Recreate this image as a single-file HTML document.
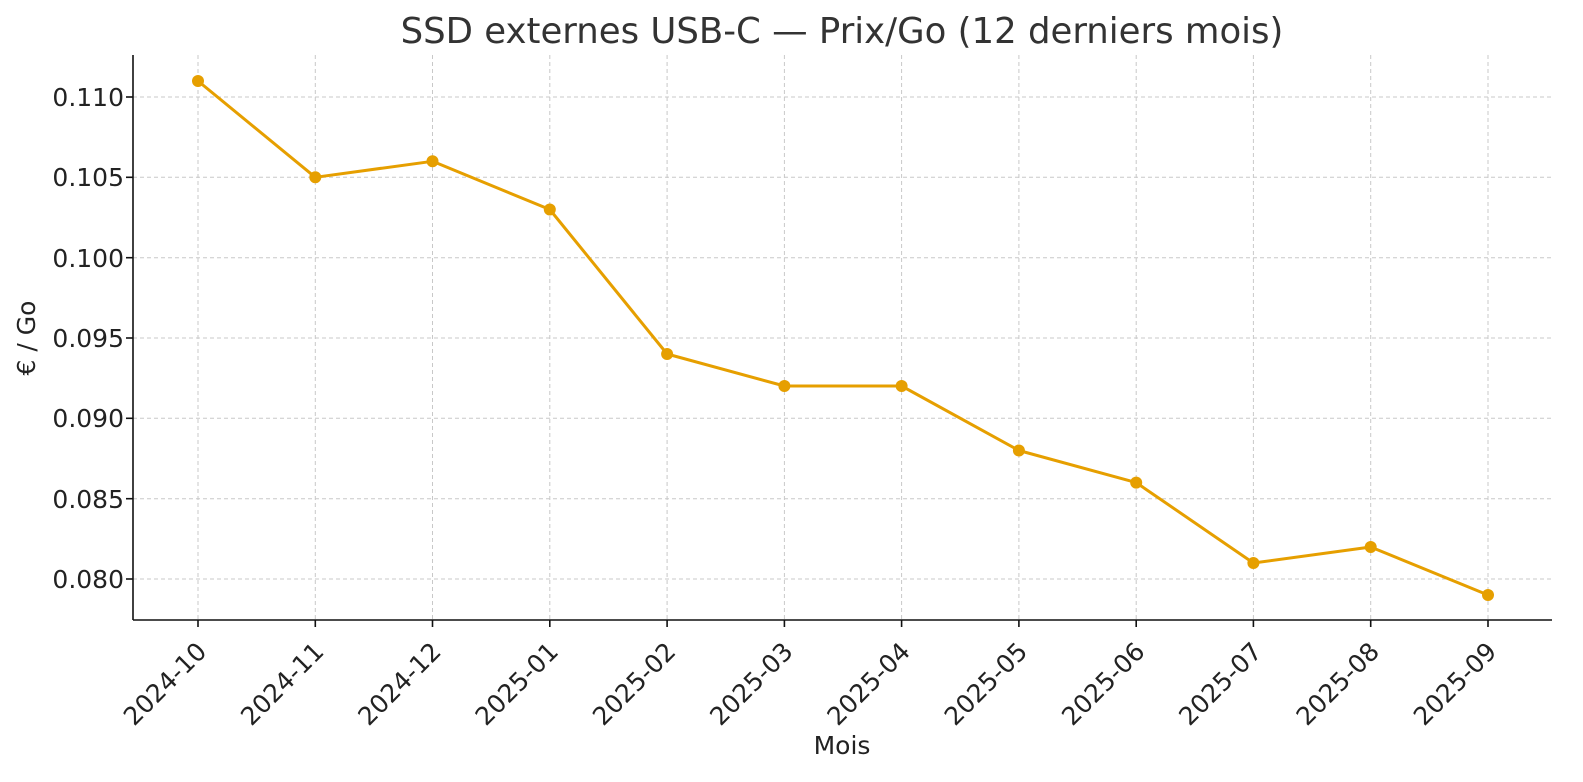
<!DOCTYPE html>
<html><head><meta charset="utf-8"><style>html,body{margin:0;padding:0;overflow:hidden;background:#fff;width:1583px;height:782px}svg{display:block}</style></head>
<body>
<svg width="1583" height="782" viewBox="0 0 1583 782" xmlns="http://www.w3.org/2000/svg" font-family="DejaVu Sans, Liberation Sans, sans-serif">
<rect width="1583" height="782" fill="#fff"/>
<g stroke="#c8c8c8" stroke-width="1" stroke-dasharray="4,3">
<line x1="133" x2="1552" y1="97" y2="97"/><line x1="133" x2="1552" y1="177.3" y2="177.3"/><line x1="133" x2="1552" y1="257.7" y2="257.7"/><line x1="133" x2="1552" y1="338" y2="338"/><line x1="133" x2="1552" y1="418.3" y2="418.3"/><line x1="133" x2="1552" y1="498.7" y2="498.7"/><line x1="133" x2="1552" y1="579" y2="579"/>
<line y1="55" y2="620" x1="198" x2="198"/><line y1="55" y2="620" x1="315.3" x2="315.3"/><line y1="55" y2="620" x1="432.5" x2="432.5"/><line y1="55" y2="620" x1="549.8" x2="549.8"/><line y1="55" y2="620" x1="667.1" x2="667.1"/><line y1="55" y2="620" x1="784.4" x2="784.4"/><line y1="55" y2="620" x1="901.6" x2="901.6"/><line y1="55" y2="620" x1="1018.9" x2="1018.9"/><line y1="55" y2="620" x1="1136.2" x2="1136.2"/><line y1="55" y2="620" x1="1253.4" x2="1253.4"/><line y1="55" y2="620" x1="1370.7" x2="1370.7"/><line y1="55" y2="620" x1="1488" x2="1488"/>
</g>
<g stroke="#111" stroke-width="1.6">
<line x1="133" y1="55" x2="133" y2="620"/><line x1="133" y1="620" x2="1552" y2="620"/>
<line x1="126" x2="133" y1="97" y2="97"/><line x1="126" x2="133" y1="177.3" y2="177.3"/><line x1="126" x2="133" y1="257.7" y2="257.7"/><line x1="126" x2="133" y1="338" y2="338"/><line x1="126" x2="133" y1="418.3" y2="418.3"/><line x1="126" x2="133" y1="498.7" y2="498.7"/><line x1="126" x2="133" y1="579" y2="579"/>
<line y1="620" y2="627" x1="198" x2="198"/><line y1="620" y2="627" x1="315.3" x2="315.3"/><line y1="620" y2="627" x1="432.5" x2="432.5"/><line y1="620" y2="627" x1="549.8" x2="549.8"/><line y1="620" y2="627" x1="667.1" x2="667.1"/><line y1="620" y2="627" x1="784.4" x2="784.4"/><line y1="620" y2="627" x1="901.6" x2="901.6"/><line y1="620" y2="627" x1="1018.9" x2="1018.9"/><line y1="620" y2="627" x1="1136.2" x2="1136.2"/><line y1="620" y2="627" x1="1253.4" x2="1253.4"/><line y1="620" y2="627" x1="1370.7" x2="1370.7"/><line y1="620" y2="627" x1="1488" x2="1488"/>
</g>
<g font-size="25" fill="#222" text-anchor="end">
<text x="124" y="106">0.110</text><text x="124" y="186">0.105</text><text x="124" y="267">0.100</text><text x="124" y="347">0.095</text><text x="124" y="427">0.090</text><text x="124" y="508">0.085</text><text x="124" y="588">0.080</text>
</g>
<g font-size="25" fill="#222" text-anchor="end">
<text transform="translate(208,653) rotate(-45)">2024-10</text>
<text transform="translate(325.3,653) rotate(-45)">2024-11</text>
<text transform="translate(442.5,653) rotate(-45)">2024-12</text>
<text transform="translate(559.8,653) rotate(-45)">2025-01</text>
<text transform="translate(677.1,653) rotate(-45)">2025-02</text>
<text transform="translate(794.4,653) rotate(-45)">2025-03</text>
<text transform="translate(911.6,653) rotate(-45)">2025-04</text>
<text transform="translate(1028.9,653) rotate(-45)">2025-05</text>
<text transform="translate(1146.2,653) rotate(-45)">2025-06</text>
<text transform="translate(1263.4,653) rotate(-45)">2025-07</text>
<text transform="translate(1380.7,653) rotate(-45)">2025-08</text>
<text transform="translate(1498,653) rotate(-45)">2025-09</text>
</g>
<text x="842" y="754" font-size="25" fill="#222" text-anchor="middle">Mois</text>
<text transform="translate(35,338) rotate(-90)" font-size="25" fill="#222" text-anchor="middle">€ / Go</text>
<text x="842" y="43" font-size="35.5" fill="#333" text-anchor="middle">SSD externes USB-C — Prix/Go (12 derniers mois)</text>
<polyline fill="none" stroke="#E69F00" stroke-width="3" stroke-linejoin="round" points="198,81 315.3,177.3 432.5,161.3 549.8,209.5 667.1,354 784.4,386 901.6,386 1018.9,450.5 1136.2,482.6 1253.4,563 1370.7,547 1488,595"/>
<g fill="#E69F00">
<circle cx="198" cy="81" r="6"/><circle cx="315.3" cy="177.3" r="6"/><circle cx="432.5" cy="161.3" r="6"/><circle cx="549.8" cy="209.5" r="6"/><circle cx="667.1" cy="354" r="6"/><circle cx="784.4" cy="386" r="6"/><circle cx="901.6" cy="386" r="6"/><circle cx="1018.9" cy="450.5" r="6"/><circle cx="1136.2" cy="482.6" r="6"/><circle cx="1253.4" cy="563" r="6"/><circle cx="1370.7" cy="547" r="6"/><circle cx="1488" cy="595" r="6"/>
</g>
</svg>
</body></html>
